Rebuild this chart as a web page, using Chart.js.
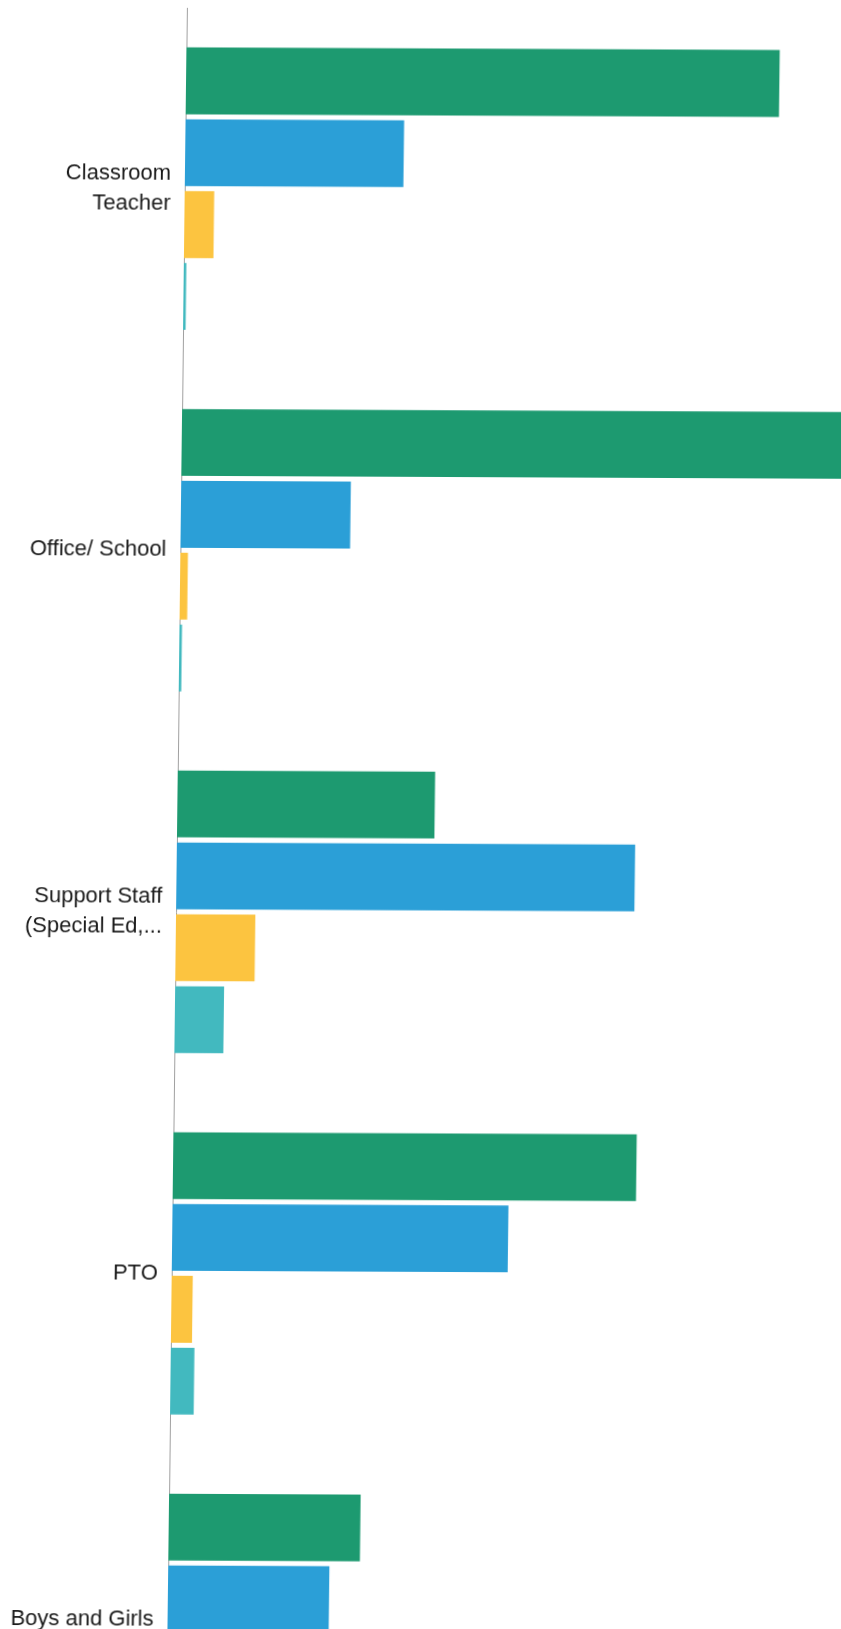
<!DOCTYPE html>
<html>
<head>
<meta charset="utf-8">
<script src="https://cdn.jsdelivr.net/npm/chart.js@4/dist/chart.umd.min.js"></script>
<style>
  html, body { margin: 0; padding: 0; background: #ffffff; overflow: hidden; width: 841px; height: 1629px; }
  #wrap { position: absolute; left: 0; top: 0; width: 1040px; height: 1815px;
          transform: matrix(1, 0.0045, -0.012, 1, 0, 0); transform-origin: 0 0; }
  canvas { display: block; }
</style>
</head>
<body>
<div id="wrap"><canvas id="c" width="1040" height="1815" style="width:1040px;height:1815px"></canvas></div>
<script>
// Categories (y axis), top to bottom
const categories = [
  ["Classroom", "Teacher"],
  "Office/ School",
  ["Support Staff", "(Special Ed,..."],
  "PTO",
  ["Boys and Girls", "Club"]
];
// Series values (percent of respondents); values beyond the visible crop are null
const seriesNames = ["Response 1", "Response 2", "Response 3", "Response 4"];
const greenValues  = [70.3, 78.7, 30.5, 54.9, 22.7];
const blueValues   = [25.9, 20.1, 54.3, 39.8, 19.1];
const yellowValues = [3.5, 0.9, 9.4, 2.5, null];
const tealValues   = [0.3, 0.3, 5.8, 2.8, null];
const xTicks = [0, 10, 20, 30, 40, 50, 60, 70, 80, 90, 100];

const colors = ["#1d9a70", "#2b9fd7", "#fcc440", "#42b9bf"];
const values = [greenValues, blueValues, yellowValues, tealValues];

new Chart(document.getElementById("c"), {
  type: "bar",
  data: {
    labels: categories,
    datasets: values.map((v, i) => ({
      label: seriesNames[i],
      data: v,
      backgroundColor: colors[i],
      borderWidth: 0,
      barPercentage: 0.93,
      categoryPercentage: 0.795
    }))
  },
  options: {
    indexAxis: "y",
    responsive: false,
    animation: false,
    devicePixelRatio: 1,
    layout: { padding: { top: 7, right: 9, bottom: 0, left: 0 } },
    plugins: { legend: { display: false }, tooltip: { enabled: false } },
    scales: {
      x: {
        display: false,
        min: 0, max: 100,
        afterBuildTicks: (s) => { s.ticks = xTicks.map(v => ({ value: v })); },
        grid: { display: false }
      },
      y: {
        afterFit: (s) => { s.width = 187; s.paddingTop = 0; s.paddingBottom = 0; },
        grid: { display: false, drawTicks: false },
        border: { display: true, color: "#a0a0a0", width: 1, dash: [3, 2] },
        ticks: {
          padding: 14,
          color: "#1a1a1a",
          font: { family: "'Liberation Sans', Arial, sans-serif", size: 22, lineHeight: 1.36 }
        }
      }
    }
  }
});
</script>
</body>
</html>
